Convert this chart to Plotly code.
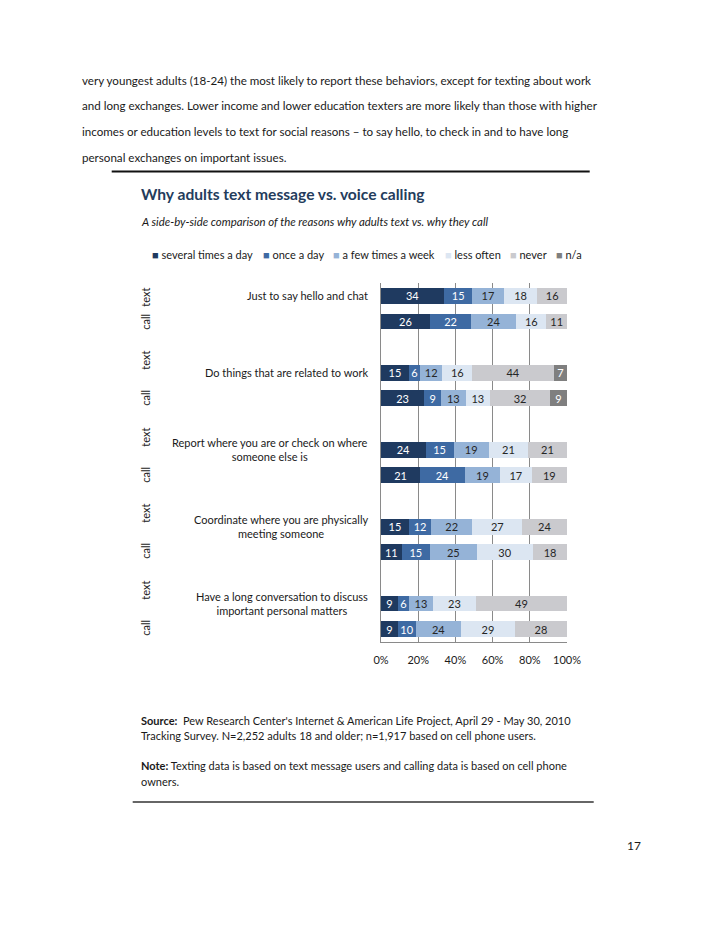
import plotly.graph_objects as go

# ---------------- data ----------------
questions = [
    "Just to say hello and chat",
    "Do things that are related to work",
    "Report where you are or check on where<br>someone else is",
    "Coordinate where you are physically<br>meeting someone",
    "Have a long conversation to discuss<br>important personal matters",
]
modes = ["text", "call"]
series_names = ["several times a day", "once a day", "a few times a week",
                "less often", "never", "n/a"]

# values per question: [text, call]
several = [[34, 26], [15, 23], [24, 21], [15, 11], [9, 9]]
once_day = [[15, 22], [6, 9], [15, 24], [12, 15], [6, 10]]
few_week = [[17, 24], [12, 13], [19, 19], [22, 25], [13, 24]]
less_often = [[18, 16], [16, 13], [21, 17], [27, 30], [23, 29]]
never = [[16, 11], [44, 32], [21, 19], [24, 18], [49, 28]]
na = [[0, 0], [7, 9], [0, 0], [0, 0], [0, 0]]
series_values = [several, once_day, few_week, less_often, never, na]

x_ticks = [0, 20, 40, 60, 80, 100]
x_tick_labels = ["0%", "20%", "40%", "60%", "80%", "100%"]

colors = ["#1f3a60", "#3e6aa3", "#95b3d7", "#dce6f2", "#cacace", "#7f7f7f"]
text_colors = ["#ffffff", "#ffffff", "#262626", "#262626", "#262626", "#ffffff"]

FONT = "Lato"

# ---------------- layout helpers ----------------
W, H = 728, 943
L, R, T, B = 381.3, 567.3, 283.0, 642.0


def px(x):
    return (x - L) / (R - L)


def py(y):
    return (B - y) / (B - T)


# category slots: text, call, spacer for each question
cats = []
for i in range(len(questions)):
    cats.append(f"q{i}-text")
    cats.append(f"q{i}-call")
    if i < len(questions) - 1:
        cats.append(f"q{i}-gap")

fig = go.Figure()
for s, name in enumerate(series_names):
    ys, xs, txt = [], [], []
    for i in range(len(questions)):
        for m, mode in enumerate(modes):
            v = series_values[s][i][m]
            ys.append(f"q{i}-{mode}")
            xs.append(v)
            txt.append(str(v) if v > 0 else "")
    fig.add_trace(go.Bar(
        name=name, y=ys, x=xs, orientation="h",
        marker=dict(color=colors[s], line=dict(width=0)),
        text=txt, textposition="inside", insidetextanchor="middle",
        textangle=0, constraintext="none",
        textfont=dict(family=FONT, size=11, color=text_colors[s]),
        showlegend=False, hoverinfo="skip",
    ))

fig.update_layout(
    width=W, height=H,
    margin=dict(l=L, r=W - R, t=T, b=H - B, pad=0),
    barmode="stack", barnorm="percent", bargap=0.38,
    paper_bgcolor="white", plot_bgcolor="white",
    font=dict(family=FONT, size=11, color="#1a1a1a"),
    uniformtext=dict(minsize=11, mode="show"),
    xaxis=dict(range=[0, 100], tickvals=x_ticks, ticktext=x_tick_labels,
               showgrid=True, gridcolor="#8a8a8a", gridwidth=1,
               showline=True, linecolor="#8a8a8a", linewidth=1,
               zeroline=False, ticks="", ticklabelstandoff=8,
               tickfont=dict(family=FONT, size=11, color="#1a1a1a"),
               fixedrange=True),
    yaxis=dict(categoryorder="array", categoryarray=cats,
               range=[len(cats) - 0.5, -0.5], showticklabels=False,
               showgrid=False, showline=True, linecolor="#8a8a8a",
               linewidth=1, zeroline=False, ticks="", fixedrange=True),
)

annotations = []
# question labels aligned with text bars
for i, q in enumerate(questions):
    annotations.append(dict(
        xref="paper", yref="y", x=px(370), y=f"q{i}-text", text=q,
        xanchor="right", yanchor="middle", align="center", showarrow=False,
        font=dict(family=FONT, size=11, color="#1a1a1a")))

# rotated text / call labels
mode_label_y = [297, 322, 360, 398, 437, 475, 513, 551, 590, 628]
k = 0
for i in range(len(questions)):
    for mode in modes:
        annotations.append(dict(
            xref="paper", yref="paper", x=px(145), y=py(mode_label_y[k]),
            text=mode, textangle=-90, showarrow=False,
            xanchor="center", yanchor="middle",
            font=dict(family=FONT, size=11, color="#1a1a1a")))
        k += 1

# legend (as text items)
legend_x = [150, 261, 331, 443, 508, 554]
for s, name in enumerate(series_names):
    annotations.append(dict(
        xref="paper", yref="paper", x=px(legend_x[s]), y=py(254),
        text=f"<span style='color:{colors[s]}'>■</span> {name}",
        xanchor="left", yanchor="middle", showarrow=False,
        font=dict(family=FONT, size=11, color="#1a1a1a")))

# title and subtitle
annotations.append(dict(
    xref="paper", yref="paper", x=px(139), y=py(194),
    text="<b>Why adults text message vs. voice calling</b>",
    xanchor="left", yanchor="middle", showarrow=False,
    font=dict(family=FONT, size=15.6, color="#243c5c")))
annotations.append(dict(
    xref="paper", yref="paper", x=px(139), y=py(222),
    text="<i>A side-by-side comparison of the reasons why adults text vs. why they call</i>",
    xanchor="left", yanchor="middle", showarrow=False,
    font=dict(family=FONT, size=11.4, color="#1a1a1a")))

# body paragraph
para = [
    "very youngest adults (18-24) the most likely to report these behaviors, except for texting about work",
    "and long exchanges. Lower income and lower education texters are more likely than those with higher",
    "incomes or education levels to text for social reasons – to say hello, to check in and to have long",
    "personal exchanges on important issues.",
]
para_y = [80, 106, 132, 157]
for line, yy in zip(para, para_y):
    annotations.append(dict(
        xref="paper", yref="paper", x=px(80), y=py(yy), text=line,
        xanchor="left", yanchor="middle", showarrow=False,
        font=dict(family=FONT, size=11.6, color="#1a1a1a")))

# source / note
notes = [
    ("<b>Source:</b>  Pew Research Center's Internet & American Life Project, April 29 - May 30, 2010", 720),
    ("Tracking Survey. N=2,252 adults 18 and older; n=1,917 based on cell phone users.", 735),
    ("<b>Note:</b> Texting data is based on text message users and calling data is based on cell phone", 765),
    ("owners.", 781),
]
for t, yy in notes:
    annotations.append(dict(
        xref="paper", yref="paper", x=px(139), y=py(yy), text=t,
        xanchor="left", yanchor="middle", showarrow=False,
        font=dict(family=FONT, size=11, color="#1a1a1a")))

# page number
annotations.append(dict(
    xref="paper", yref="paper", x=px(634), y=py(845), text="17",
    xanchor="center", yanchor="middle", showarrow=False,
    font=dict(family=FONT, size=12, color="#1a1a1a")))

fig.update_layout(annotations=annotations)

# horizontal rules
fig.add_shape(type="line", xref="paper", yref="paper",
              x0=px(112), x1=px(590), y0=py(171.5), y1=py(171.5),
              line=dict(color="#111111", width=2))
fig.add_shape(type="line", xref="paper", yref="paper",
              x0=px(133), x1=px(594), y0=py(802), y1=py(802),
              line=dict(color="#333333", width=1.5))

fig.write_html("out.html", config={"displayModeBar": False},
               post_script="document.body.style.margin='0';")
